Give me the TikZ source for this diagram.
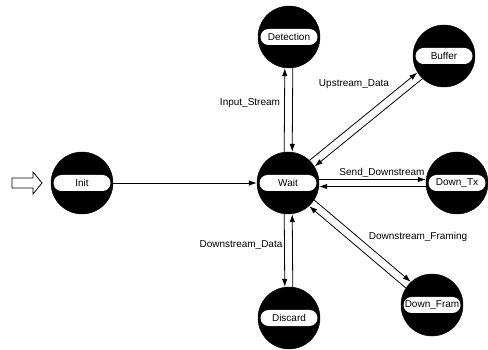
\documentclass[tikz,border=0pt]{standalone}
\usepackage{fontspec}
\setmainfont{Liberation Sans}
\usetikzlibrary{arrows.meta}
\tikzset{
  state/.style={circle, draw, fill=black, minimum size=62pt, inner sep=0pt},
  tag/.style={fill=white, rounded corners=8pt, minimum width=57pt, minimum height=16pt,
              inner sep=1pt, font=\fontsize{10}{12}\selectfont},
  flow/.style={-{Latex[length=8pt,width=5.5pt]}, line width=0.8pt},
  lane/.style={transform canvas={shift={#1}}},
  msg/.style={font=\fontsize{10}{12}\selectfont, inner sep=1pt}
}
\def\State#1#2#3{
    \node[state] (#1) at (#2) {};
    \node[tag] (#1-tag) at (#1) {#3};
}

\begin{document}
\begin{tikzpicture}[x=1pt,y=-1pt]
    \useasboundingbox (0,0) rectangle (488,350);
    \State{init}{82,183}{Init}
    \State{wait}{288,183}{Wait}
    \State{det}{289,37}{Detection}
    \State{buf}{444,56}{Buffer}
    \State{downtx}{457,183}{Down\_Tx}
    \State{downfr}{432,305}{Down\_Fram}
    \State{disc}{289,318}{Discard}

    % start marker
    \draw[line width=0.8pt, fill=white] (12,178) -- (33,178) -- (33,172) -- (42,183)
        -- (33,194) -- (33,188) -- (12,188) -- cycle;

    \draw[flow] (init) -- (wait);

    \draw[flow, lane={(-4,0)}] (wait) -- (det);
    \draw[flow, lane={(4,0)}] (det) -- (wait);

    \draw[flow, lane={(-2.5,-3.1)}] (wait) -- (buf);
    \draw[flow, lane={(2.5,3.1)}] (buf) -- (wait);

    \draw[flow, lane={(0,-3.5)}] (wait) -- (downtx);
    \draw[flow, lane={(0,3.5)}] (downtx) -- (wait);

    \draw[flow, lane={(2.6,-3)}] (wait) -- (downfr);
    \draw[flow, lane={(-2.6,3)}] (downfr) -- (wait);

    \draw[flow, lane={(-4,0)}] (wait) -- (disc);
    \draw[flow, lane={(4,0)}] (disc) -- (wait);

    \node[msg] (m-input) at (250,103) {Input\_Stream};
    \node[msg] (m-up) at (354,84) {Upstream\_Data};
    \node[msg] (m-send) at (382,173) {Send\_Downstream};
    \node[msg] (m-frame) at (418,237) {Downstream\_Framing};
    \node[msg] (m-ddata) at (241,245) {Downstream\_Data};
\end{tikzpicture}
\end{document}
